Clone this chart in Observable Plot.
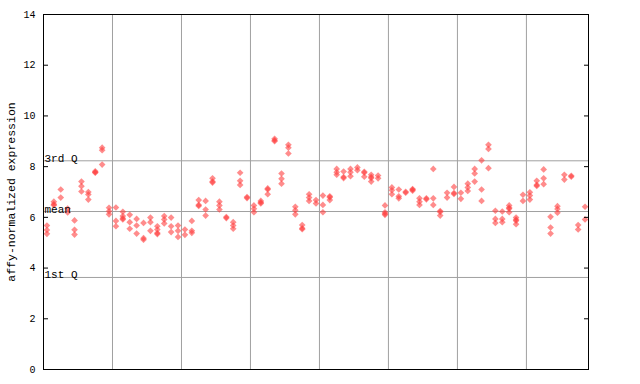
<!DOCTYPE html>
<html><head><meta charset="utf-8">
<script src="https://cdn.jsdelivr.net/npm/d3@7"></script>
<script src="https://cdn.jsdelivr.net/npm/@observablehq/plot@0.6"></script>
<style>body{margin:0;background:#fff}</style>
</head><body><div id="chart"></div>
<script>
// expression values per sample column (left to right)
const columnValues = [
  [5.68, 5.5, 5.35], [6.62, 6.52, 6.48], [7.1, 6.78], [6.35, 6.19], [5.88, 5.51, 5.32],
  [7.41, 7.23, 7.02], [7.0, 6.9, 6.7], [7.82, 7.78, 7.76], [8.75, 8.65, 8.08], [6.38, 6.24, 6.12],
  [6.39, 5.86, 5.65], [6.22, 6.05, 5.96, 5.92], [6.1, 5.81, 5.55], [5.94, 5.68, 5.36], [5.78, 5.18, 5.12],
  [5.99, 5.81, 5.47], [5.65, 5.52, 5.38, 5.34], [6.05, 5.92, 5.76], [5.99, 5.65, 5.42], [5.68, 5.47, 5.23],
  [5.52, 5.31], [5.86, 5.47, 5.39], [6.68, 6.49, 6.45], [6.65, 6.31, 6.07], [7.54, 7.41, 7.37],
  [6.62, 6.47, 6.31], [6.01, 5.97], [5.81, 5.68, 5.55], [7.76, 7.44, 7.28], [6.8, 6.76],
  [6.47, 6.34, 6.2], [6.65, 6.59, 6.55], [7.14, 7.1, 6.91], [9.1, 9.04, 9.0], [7.73, 7.52, 7.33],
  [8.86, 8.75, 8.52], [6.42, 6.28, 6.12], [5.7, 5.57, 5.53], [6.91, 6.78, 6.65], [6.68, 6.55],
  [6.86, 6.49, 6.2], [6.83, 6.79, 6.68], [7.91, 7.78, 7.68], [7.81, 7.59, 7.55], [7.91, 7.78, 7.62],
  [7.97, 7.86], [7.8, 7.76, 7.6], [7.68, 7.59, 7.55, 7.41], [7.65, 7.54], [6.47, 6.2, 6.14, 6.1],
  [7.18, 7.07, 6.91], [7.1, 6.83, 6.75], [7.01, 6.97], [7.12, 7.09, 7.05], [6.75, 6.62, 6.49],
  [6.75, 6.71], [7.91, 6.75, 6.49], [6.25, 6.21, 6.07], [6.97, 6.78], [7.2, 6.96, 6.92],
  [6.97, 6.73], [7.33, 7.18, 7.04], [7.91, 7.73, 7.41], [8.25, 7.1, 6.65], [8.86, 8.7, 7.94],
  [6.26, 5.94, 5.78], [6.23, 5.94, 5.81], [6.47, 6.38, 6.34, 6.2], [5.99, 5.91, 5.87, 5.73], [6.89, 6.65],
  [6.99, 6.86, 6.7], [7.44, 7.28, 7.24], [7.89, 7.54, 7.31], [6.02, 5.6, 5.36], [6.44, 6.33, 6.18],
  [7.68, 7.49], [7.64, 7.6], [5.7, 5.52], [6.42, 5.92]
];
const yTicks = [0, 2, 4, 6, 8, 10, 12, 14];
const groupBreaks = [10, 20, 30, 40, 50, 60, 70];
const refLabels = ["3rd Q", "mean", "1st Q"];
const refValues = [8.23, 6.23, 3.63];
const yLabel = "affy-normalized expression";

const points = columnValues.flatMap((vals, i) => vals.map(v => ({sample: i + 0.5, value: v})));
const refs = refLabels.map((label, i) => ({label, value: refValues[i]}));

const plot = Plot.plot({
  width: 640, height: 384,
  marginLeft: 43, marginRight: 52, marginTop: 14, marginBottom: 15,
  style: {fontFamily: "'Liberation Mono', 'DejaVu Sans Mono', monospace", fontSize: "9px", background: "#fff", color: "#000"},
  x: {domain: [0, columnValues.length], axis: null},
  y: {domain: [0, 14], ticks: yTicks},
  marks: [
    Plot.ruleX(groupBreaks, {stroke: "#a0a0a0", strokeWidth: 1}),
    Plot.ruleY(refs, {y: "value", stroke: "#a0a0a0", strokeWidth: 1}),
    Plot.dot(points, {x: "sample", y: "value", symbol: "diamond2", r: 3, fill: "#ff4040", fillOpacity: 0.6, stroke: null}),
    Plot.text(refs, {x: 0, y: "value", text: "label", textAnchor: "start", lineAnchor: "bottom", dx: 1, dy: 1, fontSize: 11, fill: "#000"}),
    Plot.axisY({anchor: "left", ticks: yTicks, tickSize: -5, tickPadding: 13, fontSize: 10,
      label: yLabel, labelAnchor: "center", labelArrow: "none", labelOffset: 37}),
    Plot.axisY({anchor: "right", ticks: yTicks, tickSize: -5, tickFormat: () => "", label: null}),
    Plot.frame({stroke: "#000", strokeWidth: 1})
  ]
});
document.getElementById("chart").appendChild(plot);
d3.select(plot).selectAll('g[aria-label="y-axis label"] text').style("font-size", "11.5px");
</script>
</body></html>
